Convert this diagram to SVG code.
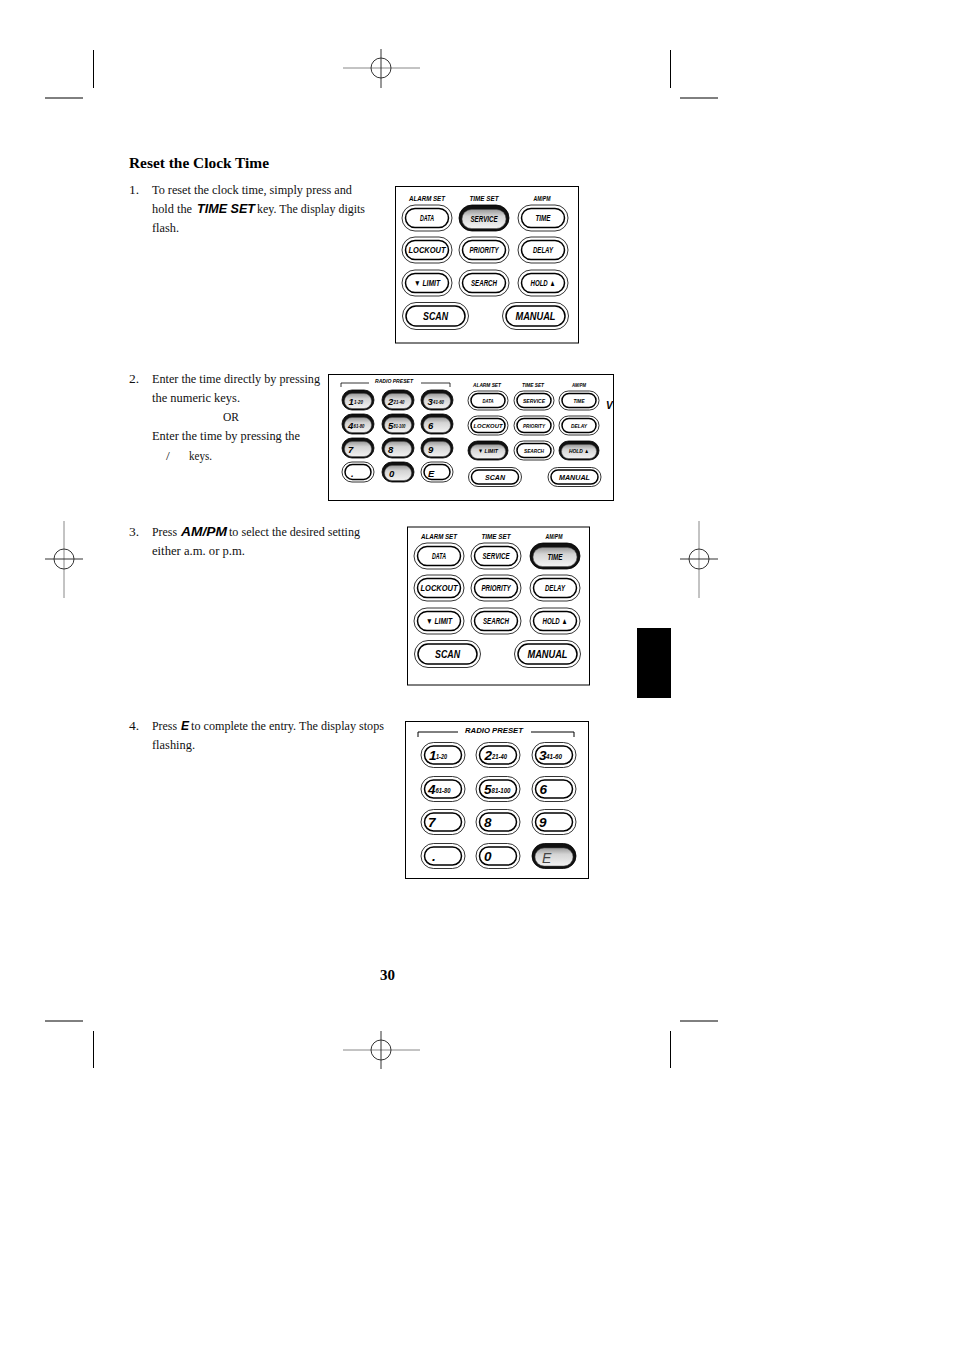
<svg xmlns="http://www.w3.org/2000/svg" width="954" height="1351" viewBox="0 0 954 1351">
<style>
.box{fill:#fff;stroke:#000;stroke-width:1}
.ko{fill:#fff;stroke:#000;stroke-width:0.8}
.ki{fill:#fff;stroke:#000;stroke-width:1.5}
.kd{fill:#111;stroke:#000;stroke-width:0.8}
.kp{fill:url(#gp);stroke:#555;stroke-width:0.5}
.kl{font-family:"Liberation Sans",Arial,sans-serif;font-weight:bold;font-style:italic;fill:#000;text-anchor:middle}
.dg{font-family:"Liberation Sans",Arial,sans-serif;font-weight:bold;font-style:italic;fill:#000}
.body{font-family:"Liberation Serif","Times New Roman",serif;font-size:13.5px;fill:#111}
.em{font-family:"Liberation Sans",Arial,sans-serif;font-weight:bold;font-style:italic;font-size:13px;fill:#000}
.ttl{font-family:"Liberation Serif","Times New Roman",serif;font-weight:bold;fill:#000}
.cm{stroke:#000;stroke-width:1}
.rg{stroke:#888;stroke-width:1}
.rd{stroke:#333;stroke-width:1}
</style>
<defs>
<linearGradient id="gp" x1="0" y1="0" x2="0" y2="1">
<stop offset="0" stop-color="#9a9a9a"/>
<stop offset="0.35" stop-color="#d4d4d4"/>
<stop offset="1" stop-color="#f2f2f2"/>
</linearGradient>
<clipPath id="clip2"><rect x="328.5" y="374.5" width="285" height="126"/></clipPath>
<g id="k1"><rect x="-25" y="-13" width="50" height="26" rx="13" class="ko"/><rect x="-21.5" y="-9.5" width="43" height="19" rx="9.5" class="ki"/></g>
<g id="k1p"><rect x="-25" y="-13" width="50" height="26" rx="13" class="kd"/><rect x="-22" y="-8.5" width="44" height="19" rx="9.5" class="kp"/></g>
<g id="k1w"><rect x="-33" y="-13.5" width="66" height="27" rx="13.5" class="ko"/><rect x="-29.5" y="-10" width="59" height="20" rx="10" class="ki"/></g>
<g id="k4"><rect x="-22" y="-12.5" width="44" height="25" rx="12.5" class="ko"/><rect x="-18.5" y="-9" width="37" height="18" rx="9" class="ki"/></g>
<g id="k4p"><rect x="-22" y="-12.5" width="44" height="25" rx="12.5" class="kd"/><rect x="-19" y="-8" width="38" height="18" rx="9" class="kp"/></g>
<g id="k2n"><rect x="-16" y="-10" width="32" height="20" rx="10" class="ko"/><rect x="-13" y="-7.5" width="26" height="15" rx="7.5" class="ki"/></g>
<g id="k2np"><rect x="-16" y="-10" width="32" height="20" rx="10" class="kd"/><rect x="-13.5" y="-6.5" width="27" height="15" rx="7.5" class="kp"/></g>
<g id="k2f"><rect x="-20" y="-9.5" width="40" height="19" rx="9.5" class="ko"/><rect x="-17" y="-7" width="34" height="14" rx="7" class="ki"/></g>
<g id="k2fp"><rect x="-20" y="-9.5" width="40" height="19" rx="9.5" class="kd"/><rect x="-17.5" y="-6" width="35" height="14" rx="7" class="kp"/></g>
<g id="k2w"><rect x="-26.5" y="-9.5" width="53" height="19" rx="9.5" class="ko"/><rect x="-23.5" y="-7" width="47" height="14" rx="7" class="ki"/></g>
</defs>
<rect width="954" height="1351" fill="#fff"/>

<g id="crop-marks">
<line class="cm" x1="93.5" y1="50" x2="93.5" y2="88"/>
<line class="cm" x1="45" y1="98" x2="83" y2="98"/>
<line class="cm" x1="670.5" y1="50" x2="670.5" y2="88"/>
<line class="cm" x1="680" y1="98" x2="718" y2="98"/>
<line class="cm" x1="45" y1="1021" x2="83" y2="1021"/>
<line class="cm" x1="93.5" y1="1031" x2="93.5" y2="1068"/>
<line class="cm" x1="680" y1="1021" x2="718" y2="1021"/>
<line class="cm" x1="670.5" y1="1031" x2="670.5" y2="1068"/>
<line class="rg" x1="343" y1="68" x2="420" y2="68"/>
<line class="rd" x1="381" y1="49" x2="381" y2="88"/>
<circle cx="381" cy="68" r="10" fill="none" class="rd"/>
<line class="rg" x1="343" y1="1050" x2="420" y2="1050"/>
<line class="rd" x1="381" y1="1031" x2="381" y2="1069"/>
<circle cx="381" cy="1050" r="10" fill="none" class="rd"/>
<line class="rg" x1="64" y1="521" x2="64" y2="598"/>
<line class="rd" x1="45" y1="559" x2="83" y2="559"/>
<circle cx="64" cy="559" r="10" fill="none" class="rd"/>
<line class="rg" x1="699" y1="521" x2="699" y2="598"/>
<line class="rd" x1="680" y1="559" x2="718" y2="559"/>
<circle cx="699" cy="559" r="10" fill="none" class="rd"/>
</g>
<rect id="tab" x="637" y="628" width="34" height="70" fill="#000"/>

<g id="text">
<text class="ttl" x="129" y="168" font-size="15.5" textLength="140" lengthAdjust="spacingAndGlyphs">Reset the Clock Time</text>
<text class="body" x="129" y="194">1.</text>
<text class="body" x="152" y="194" textLength="200" lengthAdjust="spacingAndGlyphs">To reset the clock time, simply press and</text>
<text class="body" x="152" y="213" textLength="40" lengthAdjust="spacingAndGlyphs">hold the</text>
<text class="em" x="197" y="213" textLength="58" lengthAdjust="spacingAndGlyphs">TIME SET</text>
<text class="body" x="257" y="213" textLength="108" lengthAdjust="spacingAndGlyphs">key. The display digits</text>
<text class="body" x="152" y="232" textLength="27" lengthAdjust="spacingAndGlyphs">flash.</text>

<text class="body" x="129" y="383">2.</text>
<text class="body" x="152" y="383" textLength="168" lengthAdjust="spacingAndGlyphs">Enter the time directly by pressing</text>
<text class="body" x="152" y="402" textLength="88" lengthAdjust="spacingAndGlyphs">the numeric keys.</text>
<text class="body" x="223" y="421" textLength="16" lengthAdjust="spacingAndGlyphs">OR</text>
<text class="body" x="152" y="440" textLength="148" lengthAdjust="spacingAndGlyphs">Enter the time by pressing the</text>
<text class="body" x="166" y="460">/</text>
<text class="body" x="189" y="460" textLength="23" lengthAdjust="spacingAndGlyphs">keys.</text>

<text class="body" x="129" y="536">3.</text>
<text class="body" x="152" y="536" textLength="25" lengthAdjust="spacingAndGlyphs">Press</text>
<text class="em" x="181" y="536" textLength="46" lengthAdjust="spacingAndGlyphs">AM/PM</text>
<text class="body" x="229" y="536" textLength="131" lengthAdjust="spacingAndGlyphs">to select the desired setting</text>
<text class="body" x="152" y="555" textLength="93" lengthAdjust="spacingAndGlyphs">either a.m. or p.m.</text>

<text class="body" x="129" y="730">4.</text>
<text class="body" x="152" y="730" textLength="25" lengthAdjust="spacingAndGlyphs">Press</text>
<text class="em" x="181" y="730" textLength="8" lengthAdjust="spacingAndGlyphs">E</text>
<text class="body" x="191" y="730" textLength="193" lengthAdjust="spacingAndGlyphs">to complete the entry. The display stops</text>
<text class="body" x="152" y="749" textLength="43" lengthAdjust="spacingAndGlyphs">flashing.</text>

<text class="ttl" x="380" y="980" font-size="14" textLength="15" lengthAdjust="spacingAndGlyphs">30</text>
</g>

<g id="keypad1">
<rect class="box" x="395.5" y="186.5" width="183" height="156.5"/>
<text class="kl" x="427" y="201" font-size="7" textLength="36" lengthAdjust="spacingAndGlyphs">ALARM SET</text>
<text class="kl" x="484" y="201" font-size="7" textLength="29" lengthAdjust="spacingAndGlyphs">TIME SET</text>
<text class="kl" x="542" y="201" font-size="7" textLength="17" lengthAdjust="spacingAndGlyphs">AM/PM</text>
<use href="#k1" x="427" y="218"/><use href="#k1p" x="484" y="218"/><use href="#k1" x="543" y="218"/>
<use href="#k1" x="427" y="250"/><use href="#k1" x="484" y="250"/><use href="#k1" x="543" y="250"/>
<use href="#k1" x="427" y="283"/><use href="#k1" x="484" y="283"/><use href="#k1" x="543" y="283"/>
<use href="#k1w" x="435.5" y="316"/><use href="#k1w" x="535.5" y="316"/>
<text class="kl" x="427" y="221" font-size="8.5" textLength="14" lengthAdjust="spacingAndGlyphs">DATA</text>
<text class="kl" x="484" y="222" font-size="8.5" textLength="27" lengthAdjust="spacingAndGlyphs">SERVICE</text>
<text class="kl" x="543" y="221" font-size="8.5" textLength="15" lengthAdjust="spacingAndGlyphs">TIME</text>
<text class="kl" x="427" y="253" font-size="8.5" textLength="37" lengthAdjust="spacingAndGlyphs">LOCKOUT</text>
<text class="kl" x="484" y="253" font-size="8.5" textLength="29" lengthAdjust="spacingAndGlyphs">PRIORITY</text>
<text class="kl" x="543" y="253" font-size="8.5" textLength="20" lengthAdjust="spacingAndGlyphs">DELAY</text>
<text class="kl" x="427" y="286" font-size="8.5" textLength="26" lengthAdjust="spacingAndGlyphs">▼ LIMIT</text>
<text class="kl" x="484" y="286" font-size="8.5" textLength="26" lengthAdjust="spacingAndGlyphs">SEARCH</text>
<text class="kl" x="543" y="286" font-size="8.5" textLength="25" lengthAdjust="spacingAndGlyphs">HOLD ▲</text>
<text class="kl" x="435.5" y="320" font-size="11" textLength="25" lengthAdjust="spacingAndGlyphs">SCAN</text>
<text class="kl" x="535.5" y="320" font-size="11" textLength="40" lengthAdjust="spacingAndGlyphs">MANUAL</text>
</g>

<g id="keypad2">
<rect class="box" x="328.5" y="374.5" width="285" height="126"/>
<text class="kl" x="394" y="383" font-size="5.5" textLength="38" lengthAdjust="spacingAndGlyphs">RADIO PRESET</text>
<path d="M341,387 V383 H369 M421,383 H450 V387" fill="none" stroke="#000" stroke-width="0.8"/>
<use href="#k2np" x="358" y="400"/><use href="#k2np" x="398" y="400"/><use href="#k2np" x="437" y="400"/>
<use href="#k2np" x="358" y="424"/><use href="#k2np" x="398" y="424"/><use href="#k2np" x="437" y="424"/>
<use href="#k2np" x="358" y="448"/><use href="#k2np" x="398" y="448"/><use href="#k2np" x="437" y="448"/>
<use href="#k2n" x="358" y="472"/><use href="#k2np" x="398" y="472"/><use href="#k2n" x="437" y="472"/>
<text class="dg" x="348.5" y="405" font-size="9.5">1</text><text class="dg" x="354" y="404" font-size="5" textLength="9" lengthAdjust="spacingAndGlyphs">1-20</text>
<text class="dg" x="388" y="405" font-size="9.5">2</text><text class="dg" x="393.5" y="404" font-size="5" textLength="11" lengthAdjust="spacingAndGlyphs">21-40</text>
<text class="dg" x="427.5" y="405" font-size="9.5">3</text><text class="dg" x="433" y="404" font-size="5" textLength="11" lengthAdjust="spacingAndGlyphs">41-60</text>
<text class="dg" x="348" y="429" font-size="9.5">4</text><text class="dg" x="353.5" y="428" font-size="5" textLength="11" lengthAdjust="spacingAndGlyphs">61-80</text>
<text class="dg" x="388" y="429" font-size="9.5">5</text><text class="dg" x="393.5" y="428" font-size="5" textLength="12" lengthAdjust="spacingAndGlyphs">81-100</text>
<text class="dg" x="428" y="429" font-size="9.5">6</text>
<text class="dg" x="348" y="453" font-size="9.5">7</text>
<text class="dg" x="388" y="453" font-size="9.5">8</text>
<text class="dg" x="428" y="453" font-size="9.5">9</text>
<text class="dg" x="351" y="477" font-size="9.5">.</text>
<text class="dg" x="389" y="477" font-size="9.5" fill="#444">0</text>
<text class="dg" x="428" y="477" font-size="9.5">E</text>
<text class="kl" x="487" y="387" font-size="5.5" textLength="28" lengthAdjust="spacingAndGlyphs">ALARM SET</text>
<text class="kl" x="533" y="387" font-size="5.5" textLength="22" lengthAdjust="spacingAndGlyphs">TIME SET</text>
<text class="kl" x="579" y="387" font-size="5.5" textLength="14" lengthAdjust="spacingAndGlyphs">AM/PM</text>
<use href="#k2f" x="488" y="400.5"/><use href="#k2f" x="534" y="400.5"/><use href="#k2f" x="579" y="400.5"/>
<use href="#k2f" x="488" y="425.5"/><use href="#k2f" x="534" y="425.5"/><use href="#k2f" x="579" y="425.5"/>
<use href="#k2fp" x="488" y="450.5"/><use href="#k2f" x="534" y="450.5"/><use href="#k2fp" x="579" y="450.5"/>
<use href="#k2w" x="495" y="477"/><use href="#k2w" x="574.5" y="477"/>
<text class="kl" x="488" y="402.5" font-size="6" textLength="11" lengthAdjust="spacingAndGlyphs">DATA</text>
<text class="kl" x="534" y="402.5" font-size="6" textLength="22" lengthAdjust="spacingAndGlyphs">SERVICE</text>
<text class="kl" x="579" y="402.5" font-size="6" textLength="11" lengthAdjust="spacingAndGlyphs">TIME</text>
<text class="kl" x="488" y="427.5" font-size="6" textLength="29" lengthAdjust="spacingAndGlyphs">LOCKOUT</text>
<text class="kl" x="534" y="427.5" font-size="6" textLength="22" lengthAdjust="spacingAndGlyphs">PRIORITY</text>
<text class="kl" x="579" y="427.5" font-size="6" textLength="16" lengthAdjust="spacingAndGlyphs">DELAY</text>
<text class="kl" x="488" y="453" font-size="6" textLength="20" lengthAdjust="spacingAndGlyphs">▼ LIMIT</text>
<text class="kl" x="534" y="452.5" font-size="6" textLength="20" lengthAdjust="spacingAndGlyphs">SEARCH</text>
<text class="kl" x="579" y="453" font-size="6" textLength="20" lengthAdjust="spacingAndGlyphs">HOLD ▲</text>
<text class="kl" x="495" y="480" font-size="8" textLength="20" lengthAdjust="spacingAndGlyphs">SCAN</text>
<text class="kl" x="574.5" y="480" font-size="8" textLength="31" lengthAdjust="spacingAndGlyphs">MANUAL</text>
<text class="dg" x="606" y="409" font-size="10" clip-path="url(#clip2)">VO</text>
</g>

<g id="keypad3">
<rect class="box" x="407.5" y="527" width="182" height="158"/>
<g transform="translate(12,338)">
<text class="kl" x="427" y="201" font-size="7" textLength="36" lengthAdjust="spacingAndGlyphs">ALARM SET</text>
<text class="kl" x="484" y="201" font-size="7" textLength="29" lengthAdjust="spacingAndGlyphs">TIME SET</text>
<text class="kl" x="542" y="201" font-size="7" textLength="17" lengthAdjust="spacingAndGlyphs">AM/PM</text>
<use href="#k1" x="427" y="218"/><use href="#k1" x="484" y="218"/><use href="#k1p" x="543" y="218"/>
<use href="#k1" x="427" y="250"/><use href="#k1" x="484" y="250"/><use href="#k1" x="543" y="250"/>
<use href="#k1" x="427" y="283"/><use href="#k1" x="484" y="283"/><use href="#k1" x="543" y="283"/>
<use href="#k1w" x="435.5" y="316"/><use href="#k1w" x="535.5" y="316"/>
<text class="kl" x="427" y="221" font-size="8.5" textLength="14" lengthAdjust="spacingAndGlyphs">DATA</text>
<text class="kl" x="484" y="221" font-size="8.5" textLength="27" lengthAdjust="spacingAndGlyphs">SERVICE</text>
<text class="kl" x="543" y="222" font-size="8.5" textLength="15" lengthAdjust="spacingAndGlyphs">TIME</text>
<text class="kl" x="427" y="253" font-size="8.5" textLength="37" lengthAdjust="spacingAndGlyphs">LOCKOUT</text>
<text class="kl" x="484" y="253" font-size="8.5" textLength="29" lengthAdjust="spacingAndGlyphs">PRIORITY</text>
<text class="kl" x="543" y="253" font-size="8.5" textLength="20" lengthAdjust="spacingAndGlyphs">DELAY</text>
<text class="kl" x="427" y="286" font-size="8.5" textLength="26" lengthAdjust="spacingAndGlyphs">▼ LIMIT</text>
<text class="kl" x="484" y="286" font-size="8.5" textLength="26" lengthAdjust="spacingAndGlyphs">SEARCH</text>
<text class="kl" x="543" y="286" font-size="8.5" textLength="25" lengthAdjust="spacingAndGlyphs">HOLD ▲</text>
<text class="kl" x="435.5" y="320" font-size="11" textLength="25" lengthAdjust="spacingAndGlyphs">SCAN</text>
<text class="kl" x="535.5" y="320" font-size="11" textLength="40" lengthAdjust="spacingAndGlyphs">MANUAL</text>
</g>
</g>

<g id="keypad4">
<rect class="box" x="405.5" y="721.5" width="183" height="157"/>
<text class="kl" x="494" y="733" font-size="7" textLength="58" lengthAdjust="spacingAndGlyphs">RADIO PRESET</text>
<path d="M418,737 V732 H458 M531,732 H574 V737" fill="none" stroke="#000" stroke-width="1"/>
<use href="#k4" x="443" y="755"/><use href="#k4" x="498" y="755"/><use href="#k4" x="554" y="755"/>
<use href="#k4" x="443" y="789"/><use href="#k4" x="498" y="789"/><use href="#k4" x="554" y="789"/>
<use href="#k4" x="443" y="822"/><use href="#k4" x="498" y="822"/><use href="#k4" x="554" y="822"/>
<use href="#k4" x="443" y="856"/><use href="#k4" x="498" y="856"/><use href="#k4p" x="554" y="856"/>
<text class="dg" x="429" y="760" font-size="13.5">1</text><text class="dg" x="436" y="759" font-size="7" textLength="11" lengthAdjust="spacingAndGlyphs">1-20</text>
<text class="dg" x="484.5" y="760" font-size="13.5">2</text><text class="dg" x="492" y="759" font-size="7" textLength="15" lengthAdjust="spacingAndGlyphs">21-40</text>
<text class="dg" x="539" y="760" font-size="13.5">3</text><text class="dg" x="546" y="759" font-size="7" textLength="16" lengthAdjust="spacingAndGlyphs">41-60</text>
<text class="dg" x="428" y="794" font-size="13.5">4</text><text class="dg" x="435.5" y="793" font-size="7" textLength="15" lengthAdjust="spacingAndGlyphs">61-80</text>
<text class="dg" x="484" y="794" font-size="13.5">5</text><text class="dg" x="491.5" y="793" font-size="7" textLength="19" lengthAdjust="spacingAndGlyphs">81-100</text>
<text class="dg" x="539.5" y="794" font-size="13.5">6</text>
<text class="dg" x="428" y="827" font-size="13.5">7</text>
<text class="dg" x="484" y="827" font-size="13.5">8</text>
<text class="dg" x="539" y="827" font-size="13.5">9</text>
<text class="dg" x="432" y="861" font-size="13.5">.</text>
<text class="dg" x="484" y="861" font-size="13.5">0</text>
<text x="542" y="863" font-family="Liberation Sans,Arial,sans-serif" font-style="italic" font-size="14" fill="#444">E</text>
</g>
</svg>
